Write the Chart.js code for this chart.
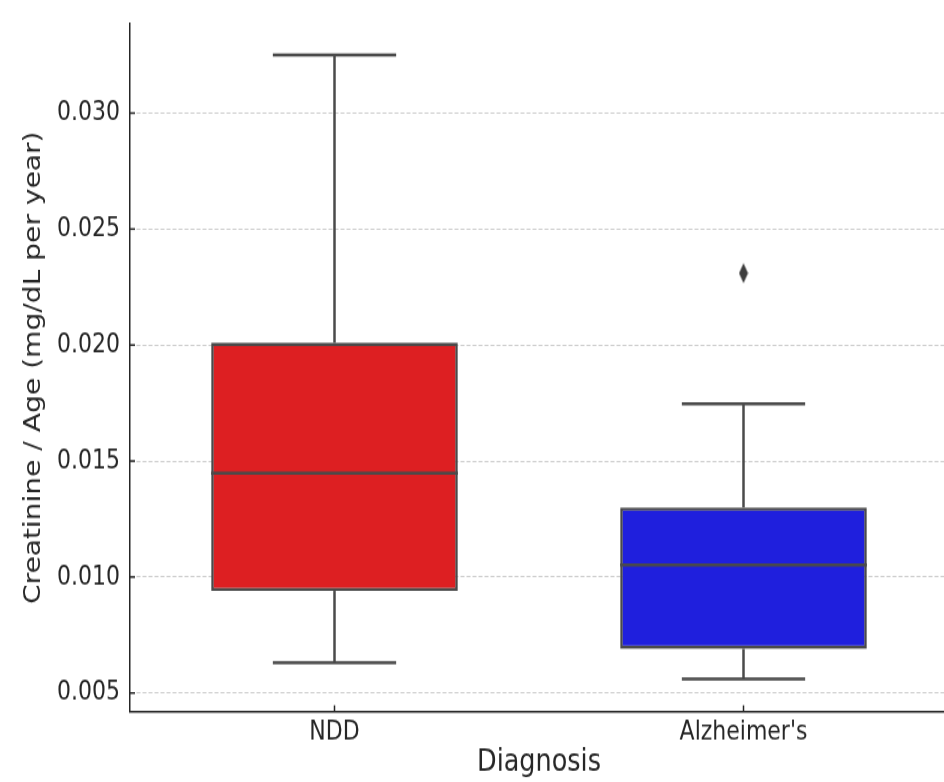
<!DOCTYPE html>
<html>
<head>
<meta charset="utf-8">
<title>Creatinine / Age by Diagnosis</title>
<script src="https://cdn.jsdelivr.net/npm/chart.js@4.4.1/dist/chart.umd.min.js"></script>
<style>
  html, body { margin: 0; padding: 0; background: #fff; overflow: hidden; }
  /* the reference figure is stretched vertically; draw at 626px and scale to 782px */
  #wrap {
    position: absolute; left: 0; top: 0; width: 956px; height: 626px;
    transform: scaleY(1.2492); transform-origin: 0 0;
  }
</style>
</head>
<body>
<div id="wrap"><canvas id="chart"></canvas></div>
<script>
// Box plot data
const categories = ['NDD', "Alzheimer's"];
const whiskerLow = [0.0063, 0.0056];
const q1 = [0.0094, 0.0069];
const median = [0.01448, 0.01052];
const q3 = [0.0201, 0.0130];
const whiskerHigh = [0.0325, 0.01746];
const outliers = [null, 0.0231];
const yTicks = [0.005, 0.010, 0.015, 0.020, 0.025, 0.030];

const boxColors = ['#dd1f22', '#1f1fdd'];
const lineColor = '#4a4a4a';
const axisColor = '#262626';

// thin diamond marker like matplotlib's 'd'
function makeDiamond() {
  const c = document.createElement('canvas');
  c.width = 10; c.height = 17;
  const g = c.getContext('2d');
  g.fillStyle = '#3d3d3d';
  g.beginPath();
  g.moveTo(5, 0.5); g.lineTo(9.5, 8.5); g.lineTo(5, 16.5); g.lineTo(0.5, 8.5);
  g.closePath();
  g.fill();
  return c;
}

// whiskers, caps, medians and inward tick marks
const boxPlugin = {
  id: 'boxParts',
  afterDraw(chart) {
    const ctx = chart.ctx;
    const x = chart.scales.x;
    const y = chart.scales.y;
    const meta = chart.getDatasetMeta(0);
    const line = (x1, y1, x2, y2) => {
      ctx.beginPath(); ctx.moveTo(x1, y1); ctx.lineTo(x2, y2); ctx.stroke();
    };
    ctx.save();
    ctx.strokeStyle = lineColor;
    categories.forEach((cat, i) => {
      const bar = meta.data[i];
      const cx = x.getPixelForValue(i);
      const half = bar.width / 2;
      const yh = y.getPixelForValue(whiskerHigh[i]);
      const yl = y.getPixelForValue(whiskerLow[i]);
      const ym = y.getPixelForValue(median[i]);
      ctx.lineWidth = 2.5;
      // whiskers
      line(cx, y.getPixelForValue(q3[i]), cx, yh);
      line(cx, y.getPixelForValue(q1[i]), cx, yl);
      // caps (half box width)
      line(cx - half / 2, yh, cx + half / 2, yh);
      line(cx - half / 2, yl, cx + half / 2, yl);
      // median
      ctx.lineWidth = 2.6;
      line(cx - half, ym, cx + half, ym);
    });
    // inward tick marks
    ctx.strokeStyle = axisColor;
    ctx.lineWidth = 1.5;
    const area = chart.chartArea;
    y.ticks.forEach((t, i) => {
      const py = y.getPixelForTick(i);
      line(area.left, py, area.left + 5, py);
    });
    x.ticks.forEach((t, i) => {
      const px = x.getPixelForTick(i);
      line(px, area.bottom, px, area.bottom - 5);
    });
    ctx.restore();
  }
};

const boxData = categories.map((c, i) => [q1[i], q3[i]]);

new Chart(document.getElementById('chart'), {
  type: 'bar',
  data: {
    labels: categories,
    datasets: [{
      label: 'IQR',
      data: boxData,
      backgroundColor: boxColors,
      borderColor: lineColor,
      borderWidth: 2.6,
      borderSkipped: false,
      barPercentage: 0.603,
      categoryPercentage: 1.0
    }, {
      type: 'line',
      label: 'Outliers',
      data: outliers,
      showLine: false,
      pointStyle: makeDiamond(),
      pointRadius: 7
    }]
  },
  options: {
    responsive: true,
    maintainAspectRatio: false,
    animation: false,
    layout: { padding: { top: 19.2, left: 0, right: 0, bottom: 0 } },
    plugins: {
      legend: { display: false },
      tooltip: { enabled: false }
    },
    scales: {
      x: {
        grid: { display: false, drawTicks: false },
        border: { display: true, color: axisColor, width: 1.5 },
        ticks: {
          color: axisColor,
          padding: 3,
          font: { family: "'DejaVu Sans'", size: 22 }
        },
        title: {
          display: true,
          text: 'Diagnosis',
          color: axisColor,
          padding: { top: 0, bottom: 0 },
          font: { family: "'DejaVu Sans'", size: 25.5 }
        },
        afterFit(scale) { scale.height = 56.4; }
      },
      y: {
        z: 1,
        min: 0.0042,
        max: 0.03384,
        grid: {
          color: '#cccccc',
          lineWidth: 1,
          drawTicks: false
        },
        border: { display: true, color: axisColor, width: 1.5, dash: [4, 2] },
        ticks: {
          color: axisColor,
          padding: 10,
          font: { family: "'DejaVu Sans'", size: 22 },
          callback: v => v.toFixed(3)
        },
        afterBuildTicks(scale) {
          scale.ticks = yTicks.map(v => ({ value: v }));
        },
        title: {
          display: true,
          text: 'Creatinine / Age (mg/dL per year)',
          color: axisColor,
          padding: { top: 21, bottom: 0 },
          font: { family: "'DejaVu Sans'", size: 22.5 }
        },
        afterFit(scale) {
          scale.width = 130;
          scale.paddingTop = 0;
          scale.paddingBottom = 0;
        }
      }
    }
  },
  plugins: [boxPlugin]
});
</script>
</body>
</html>
